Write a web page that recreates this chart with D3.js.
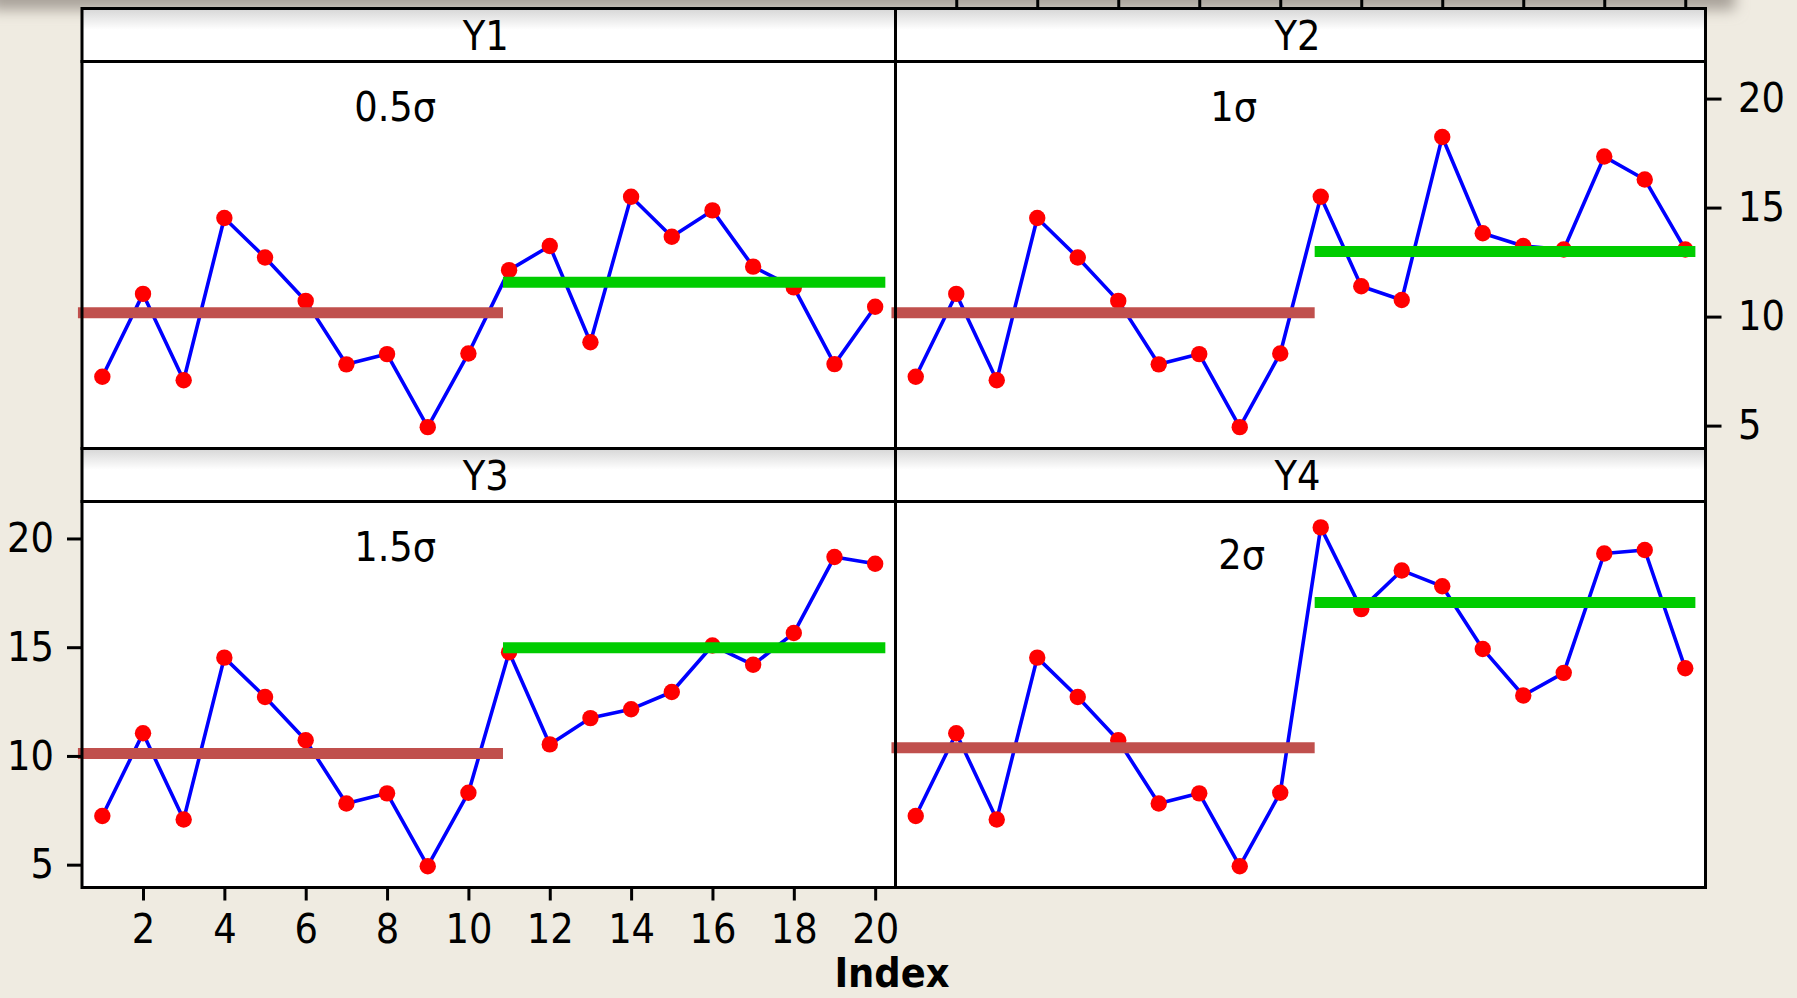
<!DOCTYPE html>
<html>
<head>
<meta charset="utf-8">
<script src="https://cdn.jsdelivr.net/npm/d3@7/dist/d3.min.js"></script>
<style>
  html, body { margin: 0; padding: 0; background: #efebe1; overflow: hidden; }
  svg { display: block; }
  text { font-family: "DejaVu Sans Condensed", "DejaVu Sans", sans-serif; font-stretch: condensed; fill: #000; }
</style>
</head>
<body>
<svg id="chart" width="1797" height="998"></svg>
<script>
// ---- data ----
const panelNames  = ["Y1", "Y2", "Y3", "Y4"];
const shiftLabels = ["0.5σ", "1σ", "1.5σ", "2σ"];
const index = [1, 2, 3, 4, 5, 6, 7, 8, 9, 10, 11, 12, 13, 14, 15, 16, 17, 18, 19, 20];

const y1 = [7.24, 11.04, 7.08, 14.52, 12.71, 10.72, 7.81, 8.28, 4.93, 8.31,
            12.13, 13.24, 8.82, 15.50, 13.66, 14.87, 12.29, 11.34, 7.82, 10.45];
const y2 = [7.24, 11.04, 7.08, 14.52, 12.71, 10.72, 7.81, 8.28, 4.93, 8.31,
            15.50, 11.39, 10.76, 18.24, 13.82, 13.24, 13.08, 17.34, 16.29, 13.08];
const y3 = [7.24, 11.04, 7.08, 14.52, 12.71, 10.72, 7.81, 8.28, 4.93, 8.31,
            14.77, 10.53, 11.74, 12.15, 12.94, 15.08, 14.19, 15.65, 19.15, 18.84];
const y4 = [7.24, 11.04, 7.08, 14.52, 12.71, 10.72, 7.81, 8.28, 4.93, 8.31,
            20.51, 16.75, 18.53, 17.80, 14.92, 12.78, 13.82, 19.31, 19.47, 14.03];
const seriesValues = [y1, y2, y3, y4];

// level before and after the shift, one per panel
const meanBefore = [10.18, 10.18, 10.11, 10.38];
const meanAfter  = [11.57, 12.98, 14.97, 17.06];
// index span covered by each level bar
const spanBefore = [0.4, 10.85];
const spanAfter  = [10.85, 20.25];

const xTickValues = [2, 4, 6, 8, 10, 12, 14, 16, 18, 20];
const yTickValues = [5, 10, 15, 20];

// ---- layout ----
const W = 1797, H = 998;
const colX = [[82, 895.5], [895.5, 1705.5]];
const rows = [
  { stripTop: 8.5,   top: 61.5,  bottom: 448.5 },
  { stripTop: 448.5, top: 501.5, bottom: 887.5 }
];
const labelPos = [[8.2, 18.97], [8.85, 18.97], [8.2, 18.96], [9.05, 18.6]];
const fontPx = 41;

const svg = d3.select("#chart");
const defs = svg.append("defs");

const sg = defs.append("linearGradient").attr("id", "stripGrad")
  .attr("x1", 0).attr("y1", 0).attr("x2", 0).attr("y2", 1);
sg.append("stop").attr("offset", "0%").attr("stop-color", "#d6d6d6");
sg.append("stop").attr("offset", "40%").attr("stop-color", "#ffffff");
sg.append("stop").attr("offset", "100%").attr("stop-color", "#ffffff");

defs.append("filter").attr("id", "soft").attr("x", "-10%").attr("y", "-200%")
  .attr("width", "120%").attr("height", "500%")
  .append("feGaussianBlur").attr("stdDeviation", 7);

// page background and the shadow band along the top edge
svg.append("rect").attr("width", W).attr("height", H).attr("fill", "#efebe1");
svg.append("rect").attr("x", -10).attr("y", -30).attr("width", 1745).attr("height", 40)
  .attr("fill", "#a9a29a").attr("filter", "url(#soft)");

const xScales = colX.map(([a, b]) => d3.scaleLinear().domain([0.5, 20.5]).range([a, b]));
const yScales = rows.map(r => d3.scaleLinear().domain([3.95, 21.7]).range([r.bottom, r.top]));

const line = (xs, ys) => d3.line().x((d, i) => xs(index[i])).y(d => ys(d));

panelNames.forEach((name, p) => {
  const col = p % 2, row = Math.floor(p / 2);
  const xs = xScales[col], ys = yScales[row];
  const [x0, x1] = colX[col];
  const r = rows[row];
  const g = svg.append("g");

  g.append("rect").attr("x", x0).attr("y", r.top).attr("width", x1 - x0)
    .attr("height", r.bottom - r.top).attr("fill", "#fff");
  g.append("rect").attr("x", x0).attr("y", r.stripTop).attr("width", x1 - x0)
    .attr("height", r.top - r.stripTop).attr("fill", "url(#stripGrad)");

  g.append("text").attr("x", (x0 + x1) / 2 - 3).attr("y", (r.stripTop + r.top) / 2)
    .attr("dy", "0.36em").attr("text-anchor", "middle").attr("font-size", fontPx)
    .text(name);

  const vals = seriesValues[p];
  g.append("path").datum(vals).attr("d", line(xs, ys)).attr("fill", "none")
    .attr("stroke", "#0000ff").attr("stroke-width", 3.6).attr("stroke-linejoin", "round");

  g.selectAll("circle").data(vals).join("circle")
    .attr("cx", (d, i) => xs(index[i])).attr("cy", d => ys(d)).attr("r", 8.2)
    .attr("fill", "#ff0000");

  g.append("line").attr("x1", xs(spanBefore[0])).attr("x2", xs(spanBefore[1]))
    .attr("y1", ys(meanBefore[p])).attr("y2", ys(meanBefore[p]))
    .attr("stroke", "#c0504d").attr("stroke-width", 11);
  g.append("line").attr("x1", xs(spanAfter[0])).attr("x2", xs(spanAfter[1]))
    .attr("y1", ys(meanAfter[p])).attr("y2", ys(meanAfter[p]))
    .attr("stroke", "#00cc00").attr("stroke-width", 11);

  g.append("text").attr("x", xs(labelPos[p][0])).attr("y", ys(labelPos[p][1]))
    .attr("text-anchor", "middle").attr("font-size", fontPx).text(shiftLabels[p]);
});

// panel and strip borders
const frame = svg.append("g").attr("fill", "none").attr("stroke", "#000").attr("stroke-width", 3);
panelNames.forEach((name, p) => {
  const col = p % 2, row = Math.floor(p / 2);
  const [x0, x1] = colX[col];
  const r = rows[row];
  frame.append("rect").attr("x", x0).attr("y", r.stripTop).attr("width", x1 - x0).attr("height", r.top - r.stripTop);
  frame.append("rect").attr("x", x0).attr("y", r.top).attr("width", x1 - x0).attr("height", r.bottom - r.top);
});

function styleAxis(sel) {
  sel.select(".domain").remove();
  sel.selectAll(".tick line").attr("stroke", "#000").attr("stroke-width", 3);
  sel.selectAll(".tick text").attr("font-size", fontPx).attr("font-family", null);
}

// bottom axis under Y3
svg.append("g").attr("transform", `translate(0,${rows[1].bottom})`)
  .call(d3.axisBottom(xScales[0]).tickValues(xTickValues).tickSize(13).tickPadding(13.5))
  .call(styleAxis);

// top axis over Y2 (labels run off the page edge)
svg.append("g").attr("transform", `translate(0,${rows[0].stripTop})`)
  .call(d3.axisTop(xScales[1]).tickValues(xTickValues).tickSize(16).tickFormat(""))
  .call(styleAxis);

// left axis beside Y3
svg.append("g").attr("transform", `translate(${colX[0][0]},0)`)
  .call(d3.axisLeft(yScales[1]).tickValues(yTickValues).tickSize(15).tickPadding(13))
  .call(styleAxis);

// right axis beside Y2
svg.append("g").attr("transform", `translate(${colX[1][1]},0)`)
  .call(d3.axisRight(yScales[0]).tickValues(yTickValues).tickSize(16).tickPadding(16.5))
  .call(styleAxis);

svg.append("text").attr("x", 892).attr("y", 987).attr("text-anchor", "middle")
  .attr("font-size", 41).attr("font-weight", "bold").text("Index");
</script>
</body>
</html>
